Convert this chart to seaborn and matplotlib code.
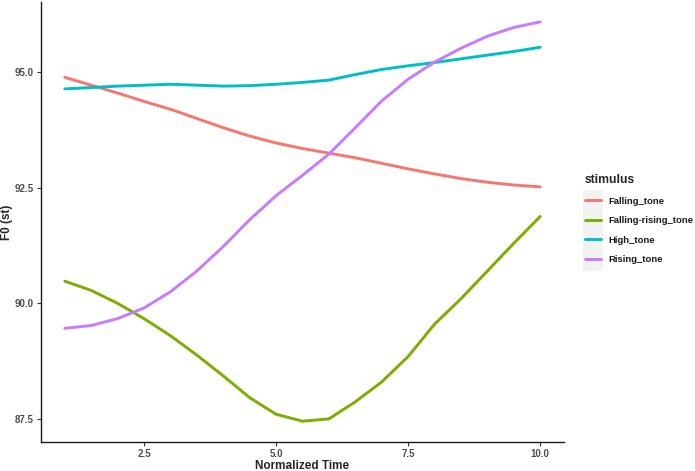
import pandas as pd
import matplotlib.pyplot as plt
import seaborn as sns
from matplotlib.patches import Rectangle
from matplotlib.lines import Line2D

# Normalized time points
time_points = [1.0, 1.5, 2.0, 2.5, 3.0, 3.5, 4.0, 4.5, 5.0, 5.5,
               6.0, 6.5, 7.0, 7.5, 8.0, 8.5, 9.0, 9.5, 10.0]

# F0 (st) per stimulus
falling_tone = [94.89, 94.72, 94.55, 94.37, 94.20, 94.00, 93.80, 93.62, 93.47, 93.35,
                93.25, 93.15, 93.03, 92.91, 92.80, 92.70, 92.62, 92.56, 92.52]
falling_rising_tone = [90.48, 90.28, 90.00, 89.67, 89.30, 88.88, 88.43, 87.96, 87.60, 87.45,
                       87.50, 87.87, 88.30, 88.85, 89.55, 90.10, 90.70, 91.30, 91.88]
high_tone = [94.64, 94.67, 94.70, 94.72, 94.74, 94.72, 94.70, 94.71, 94.74, 94.78,
             94.83, 94.95, 95.06, 95.14, 95.21, 95.29, 95.37, 95.45, 95.54]
rising_tone = [89.46, 89.52, 89.67, 89.90, 90.25, 90.70, 91.23, 91.81, 92.33, 92.77,
               93.23, 93.80, 94.38, 94.85, 95.22, 95.52, 95.78, 95.97, 96.09]

stimuli = ['Falling_tone', 'Falling-rising_tone', 'High_tone', 'Rising_tone']
colors = ['#F8766D', '#7CAE00', '#00BFC4', '#C77CFF']

x_ticks = [2.5, 5.0, 7.5, 10.0]
x_tick_labels = ['2.5', '5.0', '7.5', '10.0']
y_ticks = [87.5, 90.0, 92.5, 95.0]
y_tick_labels = ['87.5', '90.0', '92.5', '95.0']

series = [falling_tone, falling_rising_tone, high_tone, rising_tone]
frames = []
for name, values in zip(stimuli, series):
    frames.append(pd.DataFrame({'time': time_points, 'f0': values, 'stimulus': name}))
df = pd.concat(frames, ignore_index=True)

sns.set_theme(style='ticks')
plt.rcParams['font.family'] = ['Liberation Sans', 'DejaVu Sans']

fig = plt.figure(figsize=(6.95, 4.71), dpi=100)
ax = fig.add_axes([41 / 695, 1 - 442 / 471, (564 - 41) / 695, (442 - 2) / 471])

palette = dict(zip(stimuli, colors))
sns.lineplot(data=df, x='time', y='f0', hue='stimulus', hue_order=stimuli,
             palette=palette, linewidth=2.1, ax=ax, legend=False)

# ggplot-like expansion of 5 %
ax.set_xlim(0.55, 10.45)
ax.set_ylim(87.0, 96.52)
ax.set_xticks(x_ticks)
ax.set_xticklabels(x_tick_labels)
ax.set_yticks(y_ticks)
ax.set_yticklabels(y_tick_labels)
ax.tick_params(axis='both', length=3, width=0.8, color='#333333',
               labelsize=7, labelcolor='#4D4D4D', pad=2)
for lab in ax.get_xticklabels() + ax.get_yticklabels():
    lab.set_fontweight('bold')
for side in ['left', 'bottom']:
    ax.spines[side].set_color('#1A1A1A')
    ax.spines[side].set_linewidth(1.0)
sns.despine(ax=ax)

ax.set_xlabel('Normalized Time', fontsize=8.5, fontweight='bold')
ax.set_ylabel('F0 (st)', fontsize=8.5, fontweight='bold')
ax.xaxis.set_label_coords(0.5, -0.040)
ax.yaxis.set_label_coords(-0.054, 0.5)

# grey legend key background like ggplot, kept behind the legend
fig.patches.append(Rectangle((583 / 695, 1 - 271 / 471), 20 / 695, 81 / 471,
                             facecolor='#F2F2F2', edgecolor='none',
                             transform=fig.transFigure, zorder=-1))

handles = [Line2D([], [], color=c, linewidth=2.1) for c in colors]
leg = ax.legend(handles, stimuli, title='stimulus', loc='upper left',
                bbox_to_anchor=(585 / 695, 1 - 174 / 471), bbox_transform=fig.transFigure,
                frameon=False, fontsize=6.8, title_fontsize=8.7, borderpad=0,
                handlelength=1.7, handletextpad=0.75, labelspacing=1.12, borderaxespad=0)
leg._legend_box.align = 'left'
leg.get_title().set_fontweight('bold')
for t in leg.get_texts():
    t.set_fontweight('bold')
    t.set_color('#1A1A1A')

plt.savefig('out.png', dpi=100)
